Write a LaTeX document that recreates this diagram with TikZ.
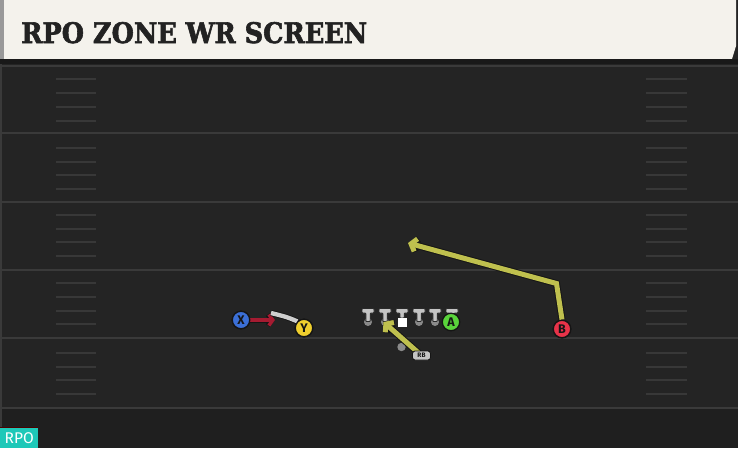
\documentclass[tikz,border=0pt]{standalone}
\usepackage{fontspec}
\usetikzlibrary{arrows.meta}
\newfontfamily\titlefont{DejaVu Serif}[BoldFeatures={FakeBold=2.2}]
\newfontfamily\labfont{Fira Sans}
\definecolor{bgc}{HTML}{242424}
\definecolor{bgbottom}{HTML}{1F1F1F}
\definecolor{yardc}{HTML}{3A3A3A}
\definecolor{hashc}{HTML}{383838}
\definecolor{creamc}{HTML}{F4F2EC}
\definecolor{titletext}{HTML}{222222}
\definecolor{xblue}{HTML}{3B6FD6}
\definecolor{yyellow}{HTML}{F0CF2E}
\definecolor{agreen}{HTML}{59D33B}
\definecolor{bred}{HTML}{E83349}
\definecolor{routey}{HTML}{BFC04E}
\definecolor{redr}{HTML}{A51B31}
\definecolor{grayr}{HTML}{CFCFCF}
\definecolor{outl}{HTML}{151515}
\definecolor{tcol}{HTML}{C4C4C4}
\definecolor{dotc}{HTML}{8A8A8A}
\definecolor{tealc}{HTML}{1EC8B8}
\tikzset{
  player/.style={circle, draw=outl, line width=1.3, minimum size=17.5, inner sep=0,
    font=\labfont\bfseries\fontsize{12.5}{12.5}\selectfont, text=outl},
  yard/.style={draw=yardc, line width=2},
  hash/.style={draw=hashc, line width=2},
  routeout/.style={draw=outl, line width=7, line join=miter, -{Straight Barb[length=5, width=13]}},
  routein/.style={draw=routey, line width=5, line join=miter, -{Straight Barb[length=5, width=13]}},
  redout/.style={draw=outl, line width=5, -{Straight Barb[length=4, width=11]}},
  redin/.style={draw=redr, line width=3.5, -{Straight Barb[length=4, width=11]}},
  grayout/.style={draw=outl, line width=6},
  grayin/.style={draw=grayr, line width=4.3},
  tshape/.style={fill=tcol, draw=outl!80!gray, line width=0.9, rounded corners=0.8},
  rbbox/.style={fill=tcol, draw=outl, line width=0.9, rounded corners=2.5, minimum width=18, minimum height=9, inner sep=0,
    font=\labfont\bfseries\fontsize{6.5}{6.5}\selectfont, text=outl},
}
\begin{document}
\begin{tikzpicture}[x=1pt,y=-1pt]
\useasboundingbox (0,0) rectangle (738,448);
\fill[bgc] (0,0) rectangle (738,448);
\fill[bgbottom] (0,409) rectangle (738,448);
\fill[yardc] (0,59) rectangle (2,448);
% title bar
\fill[black!40] (0,0) rectangle (4,59);
\fill[creamc] (4,0) -- (736,0) -- (736,46) -- (732,59) -- (4,59) -- cycle;
\node[anchor=base west, inner sep=0, text=titletext] (title) at (21,43)
  {\resizebox{346pt}{21pt}{\titlefont\bfseries RPO ZONE WR SCREEN}};
\fill[black!90] (0,59) rectangle (738,64);
\draw[yard] (0,65.5) -- (738,65.5);
% yard lines
\foreach \yy in {133,201.5,270,338,408}{\draw[yard] (2,\yy) -- (738,\yy);}
% hash marks
\foreach \yy in {79,92.5,106.5,120.5,147.5,161.5,175,188.5,214.5,228.5,241.5,256,283,297,311,324,353,367,380,394}{
  \draw[hash] (56,\yy) -- (96,\yy);
  \draw[hash] (646,\yy) -- (687,\yy);
}
% linemen
\foreach \xx in {368,385,419,435,452}{
  \fill[dotc] (\xx,322) circle (4);
  \path[tshape] (\xx-6,308.5) -- (\xx+6,308.5) -- (\xx+6,313) -- (\xx+2.2,313) -- (\xx+2.2,321.5) -- (\xx-2.2,321.5) -- (\xx-2.2,313) -- (\xx-6,313) -- cycle;
}
\path[tshape] (396,308.5) -- (408,308.5) -- (408,313) -- (404.2,313) -- (404.2,318) -- (399.8,318) -- (399.8,313) -- (396,313) -- cycle;
\fill[white] (397.5,318) rectangle (406.5,327);
% RB
\coordinate (rbpos) at (421.5,355.5);
\coordinate (rbend) at (383.5,322);
\fill[dotc] (401.5,347) circle (4.2);
\draw[routeout] (rbpos) -- (rbend);
\draw[routein] (rbpos) -- (rbend);
\node[rbbox] (RB) at (rbpos) {RB};
% players
\node[player, fill=agreen] (A) at (451,322) {A};
\node[player, fill=bred] (B) at (562,329) {B};
\coordinate (bturn) at (556.5,283.5);
\coordinate (bend) at (408,243);
\draw[routeout] (B.north) -- (bturn) -- (bend);
\draw[routein] (B.north) -- (bturn) -- (bend);
\node[player, fill=bred] at (B) {B};
% X and Y
\coordinate (xend) at (275,320);
\coordinate (ystart) at (271,313);
\node[player, fill=yyellow] (Y) at (304,328) {Y};
\node[player, fill=xblue] (X) at (241,320) {X};
\draw[redout] (X.east) -- (xend);
\draw[redin] (X.east) -- (xend);
\draw[grayout] (ystart) .. controls (287,317) .. (Y.north west);
\draw[grayin] (ystart) .. controls (287,317) .. (Y.north west);
\node[player, fill=yyellow] at (Y) {Y};
\node[player, fill=xblue] at (X) {X};
% RPO label
\node[anchor=south west, fill=tealc, minimum width=38, minimum height=20, inner sep=0,
  text=white, font=\labfont\fontsize{15.5}{15.5}\selectfont] (rpo) at (0,448) {RPO};
\draw[red!30!black, line width=0.8] (rpo.north west) -- (rpo.north east);
\end{tikzpicture}
\end{document}
